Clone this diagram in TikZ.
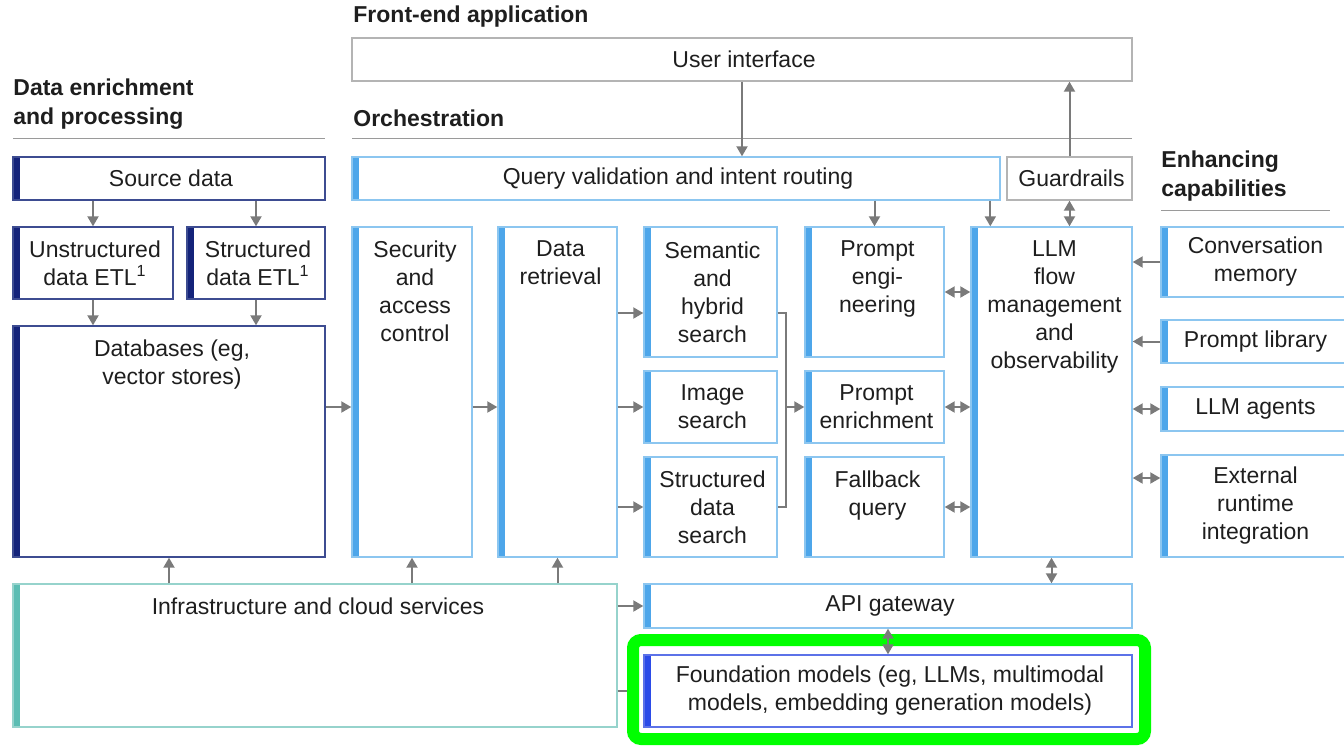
\documentclass[tikz,border=0pt]{standalone}
\usepackage{fontspec}
\setmainfont{Liberation Sans}
\usetikzlibrary{positioning, fit, arrows.meta}

\definecolor{navybar}{HTML}{14237A}
\definecolor{navyline}{HTML}{3D4C91}
\definecolor{bluebar}{HTML}{4DA6EA}
\definecolor{blueline}{HTML}{8CC6F0}
\definecolor{tealbar}{HTML}{5CBDB3}
\definecolor{tealline}{HTML}{96D3CC}
\definecolor{fmbar}{HTML}{2B4BE8}
\definecolor{fmline}{HTML}{5C72E8}
\definecolor{greyline}{HTML}{B4B4B4}
\definecolor{arrowgrey}{HTML}{7A7A7A}
\definecolor{rulegrey}{HTML}{9A9A9A}
\definecolor{hilite}{HTML}{00FF00}
\definecolor{textcol}{HTML}{1E1E1E}

\tikzset{
  boxbase/.style={draw, line width=0.7pt, inner sep=0pt},
  greybox/.style={boxbase, draw=greyline},
  barbox/.style={boxbase, draw=#1line,
    path picture={\fill[#1bar] (path picture bounding box.north west)
      rectangle ([xshift=3.3pt]path picture bounding box.south west);}},
  navybox/.style={barbox=navy},
  bluebox/.style={barbox=blue},
  tealbox/.style={barbox=teal},
  fmbox/.style={barbox=fm},
  lbl/.style={align=center, inner sep=0pt, text=textcol,
    font=\fontsize{11.5}{14}\selectfont},
  lbltop/.style={lbl, anchor=north, yshift=-7pt, xshift=1.5pt},
  lblmid/.style={lbl, anchor=center, xshift=1pt},
  toptext/.style={label={[lbltop]north:{#1}}},
  midtext/.style={label={[lblmid]center:{#1}}},
  head/.style={anchor=west, align=left, inner sep=0pt, text=textcol,
    font=\bfseries\fontsize{11.5}{14.5}\selectfont},
  rule/.style={draw=rulegrey, line width=0.5pt},
  arr/.style={draw=arrowgrey, line width=1pt, -{Triangle[length=5pt,width=5.5pt]}},
  darr/.style={draw=arrowgrey, line width=1pt,
    {Triangle[length=5pt,width=5.5pt]}-{Triangle[length=5pt,width=5.5pt]}},
  link/.style={draw=arrowgrey, line width=1pt}
}

\begin{document}
\begin{tikzpicture}[x=0.5pt, y=-0.5pt]
  \useasboundingbox (0,0) rectangle (1344,745);

  % Headings and rules
  \node[head] (hfront) at (353,17) {Front-end application};
  \node[head] (hdata) at (13,104) {Data enrichment\\and processing};
  \node[head] (horch) at (353,118) {Orchestration};
  \node[head] (henh) at (1161,176) {Enhancing\\capabilities};
  \draw[rule] (13,138) -- (325,138);
  \draw[rule] (352,138) -- (1132,138);
  \draw[rule] (1161,210) -- (1330,210);

  % Data enrichment and processing
  \node[navybox, fit={(13,157) (325,200)}, midtext={Source data}] (src) {};
  \node[navybox, fit={(13,227) (173,299)}, midtext={Unstructured\\data ETL\textsuperscript{1}}] (etlu) {};
  \node[navybox, fit={(187,227) (325,299)}, midtext={Structured\\data ETL\textsuperscript{1}}] (etls) {};
  \node[navybox, fit={(13,326) (325,557)}, toptext={Databases (eg,\\vector stores)}] (db) {};

  % Front-end and orchestration
  \node[greybox, fit={(352,38) (1132,81)}, midtext={User interface}] (ui) {};
  \node[bluebox, fit={(352,157) (1000,200)}, midtext={Query validation and intent routing}] (qv) {};
  \node[greybox, fit={(1007,157) (1132,200)}, midtext={Guardrails}] (gr) {};
  \node[bluebox, fit={(352,227) (472,557)}, toptext={Security\\and\\access\\control}] (sec) {};
  \node[bluebox, fit={(498,227) (617,557)}, toptext={Data\\retrieval}] (ret) {};
  \node[bluebox, fit={(644,227) (777,357)}, midtext={Semantic\\and\\hybrid\\search}] (sem) {};
  \node[bluebox, fit={(644,371) (777,443)}, midtext={Image\\search}] (img) {};
  \node[bluebox, fit={(644,457) (777,557)}, midtext={Structured\\data\\search}] (sds) {};
  \node[bluebox, fit={(805,227) (944,357)}, toptext={Prompt\\engi-\\neering}] (peng) {};
  \node[bluebox, fit={(805,371) (944,443)}, midtext={Prompt\\enrichment}] (penr) {};
  \node[bluebox, fit={(805,457) (944,557)}, toptext={Fallback\\query}] (fbq) {};
  \node[bluebox, fit={(971,227) (1132,557)},
    toptext={LLM\\flow\\management\\and\\observability}] (llm) {};

  % Enhancing capabilities
  \node[bluebox, fit={(1161,227) (1346,297)}, midtext={Conversation\\memory}] (conv) {};
  \node[bluebox, fit={(1161,320) (1346,363)}, midtext={Prompt library}] (plib) {};
  \node[bluebox, fit={(1161,387) (1346,431)}, midtext={LLM agents}] (agt) {};
  \node[bluebox, fit={(1161,455) (1346,557)}, midtext={External\\runtime\\integration}] (ext) {};

  % Infrastructure and models
  \node[tealbox, fit={(13,584) (617,727)}, toptext={Infrastructure and cloud services}] (infra) {};
  \node[bluebox, fit={(644,584) (1132,628)}, midtext={API gateway}] (api) {};
  \node[fmbox, fit={(644,655) (1132,727)},
    midtext={Foundation models (eg, LLMs, multimodal\\models, embedding generation models)}] (fm) {};

  % Connectors, data side
  \draw[arr] (src.south -| etlu.north) -- (etlu.north);
  \draw[arr] (src.south -| etls.north) -- (etls.north);
  \draw[arr] (etlu.south) -- (etlu.south |- db.north);
  \draw[arr] (etls.south) -- (etls.south |- db.north);
  \draw[arr] (db.east |- img.west) -- (sec.west |- img.west);
  \draw[arr] (sec.east |- img.west) -- (ret.west |- img.west);

  % Retrieval to searches
  \coordinate (semin) at ([yshift=-10.5pt]sem.west);
  \draw[arr] (ret.east |- semin) -- (semin);
  \draw[arr] (ret.east |- img.west) -- (img.west);
  \draw[arr] (ret.east |- sds.west) -- (sds.west);
  \coordinate (mrg) at ([xshift=4pt]img.east);
  \draw[link] ([yshift=-10.5pt]sem.east) -| (mrg) |- (sds.east);
  \draw[arr] (mrg) -- (penr.west);

  % Front-end, routing and guardrails
  \draw[arr] (ui.south) -- (ui.south |- qv.north);
  \draw[arr] (gr.north) -- (gr.north |- ui.south);
  \draw[arr] (qv.south -| peng.north) -- (peng.north);
  \coordinate (llmin) at ([xshift=10pt]llm.north west);
  \draw[arr] (qv.south -| llmin) -- (llmin);
  \draw[darr] (gr.south) -- (gr.south |- llm.north);
  \foreach \n in {peng, penr, fbq}
    \draw[darr] (\n.east) -- (\n.east -| llm.west);

  % Enhancing capabilities to LLM
  \draw[arr] (conv.west) -- (conv.west -| llm.east);
  \draw[arr] (plib.west) -- (plib.west -| llm.east);
  \draw[darr] (agt.west) -- (agt.west -| llm.east);
  \draw[darr] ([yshift=14pt]ext.west) -- ([yshift=14pt]ext.west -| llm.east);
  \draw[darr] (llm.south) -- (llm.south |- api.north);

  % Infrastructure
  \foreach \n in {db, sec, ret}
    \draw[arr] (infra.north -| \n.south) -- (\n.south);
  \draw[arr] (infra.east |- api.west) -- (api.west);
  \draw[link] (infra.east |- fm.west) -- ([xshift=-8pt]fm.west);

  % Highlight round the foundation models
  \draw[draw=hilite, line width=6pt, rounded corners=4pt] (633,640) rectangle (1145,739);
  \draw[darr] (api.south) -- (fm.north);
\end{tikzpicture}
\end{document}
